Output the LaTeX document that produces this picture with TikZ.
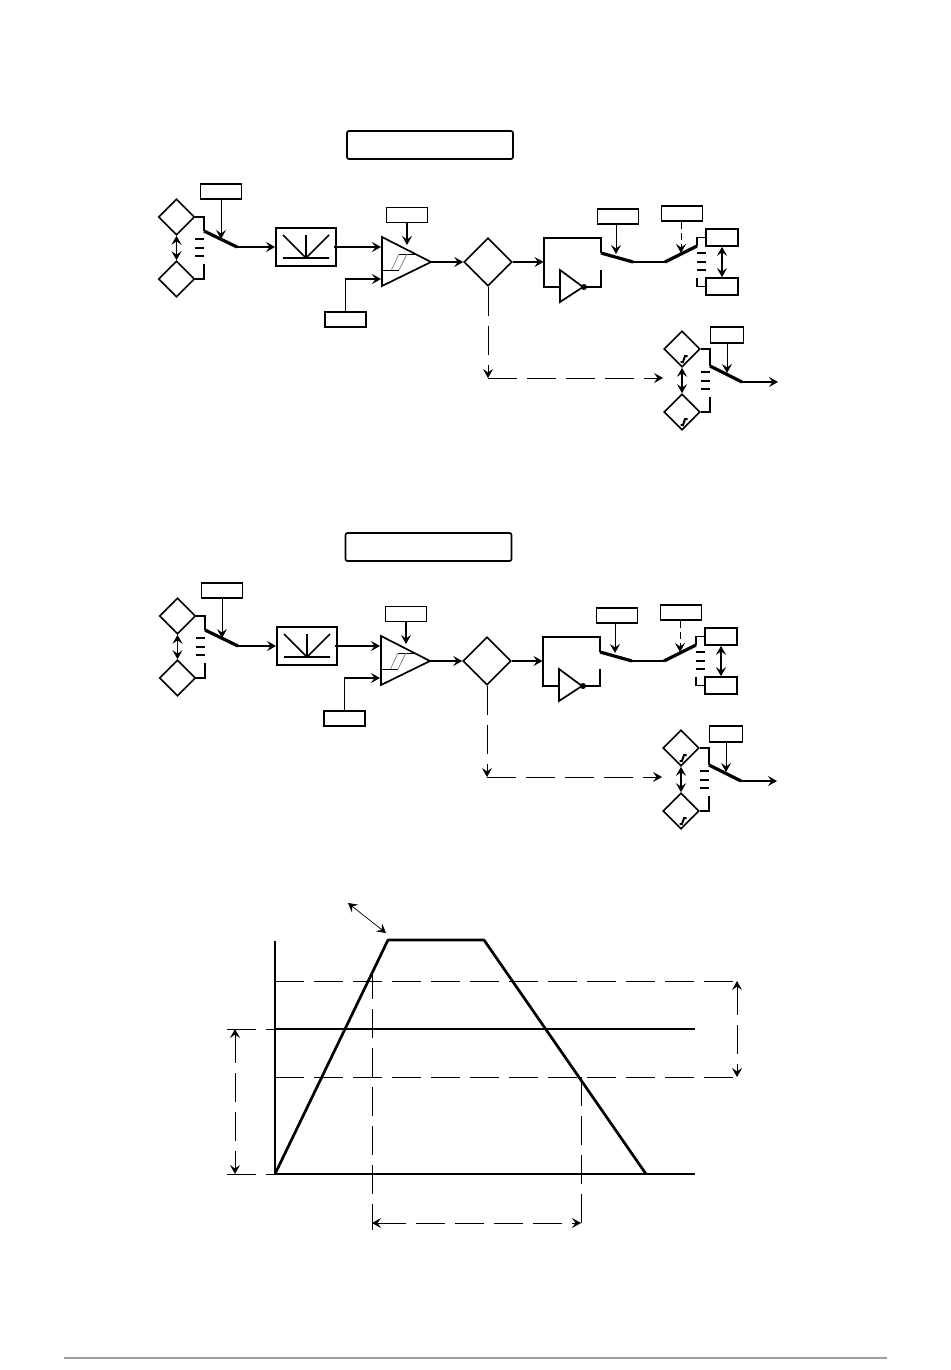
\documentclass[tikz,border=0pt]{standalone}
\usetikzlibrary{arrows.meta,shapes.geometric}

\tikzset{
  wire/.style={line width=1.7pt},
  thinwire/.style={line width=1pt},
  bar/.style={line width=2pt},
  blade/.style={line width=3.2pt},
  longdash/.style={line width=0.9pt, dash pattern=on 29pt off 10pt},
  sbox/.style={draw, line width=1.7pt, inner sep=0pt, minimum width=41pt, minimum height=15pt},
  tbox/.style={draw, line width=1.7pt, inner sep=0pt, minimum width=32pt, minimum height=17pt},
  rhomb/.style={draw, diamond, line width=1.6pt, inner sep=0pt, minimum width=36pt, minimum height=36pt},
  title/.style={draw, rounded corners=2pt, line width=1.7pt, inner sep=0pt, minimum width=166pt, minimum height=28pt}
}

\begin{document}
\begin{tikzpicture}[x=1pt, y=-1pt, >={Stealth[length=9pt,width=10pt,inset=3.5pt]}]
\useasboundingbox (0,0) rectangle (950,1370);

\foreach \sec/\dl/\dr/\dy in {a/0/0/0, b/1/-1/399} {

% left part
\begin{scope}[shift={(\dl,\dy)}]
\node[rhomb] (\sec-d1) at (176.5,217) {};
\node[rhomb] (\sec-d2) at (176.5,279) {};
\node[sbox] (\sec-s1) at (221,191.5) {};
\node[draw, line width=1.9pt, inner sep=0pt, minimum width=60pt, minimum height=38pt] (\sec-mul) at (306,247) {};
\coordinate (\sec-sw1) at (204,231);
\coordinate (\sec-sw2) at (237,247);
\draw[wire, <->] (\sec-d1.south) -- (\sec-d2.north);
\draw[wire] (\sec-d1.east) -| (\sec-sw1);
\draw[wire] (\sec-d2.east) -| (204,264);
\draw[bar] (195,239) -- (204,239) (195,247.5) -- (204,247.5) (195,256) -- (204,256);
\draw[blade] (\sec-sw1) -- (\sec-sw2);
\draw[thinwire, ->] (\sec-s1.south) -- (221,239);
\draw[wire, ->] (\sec-sw2) -- (\sec-mul.west);
\draw[wire] (283,235) -- (306,258) -- (329,235) (306,235) -- (306,258) (283,258) -- (329,258);
\end{scope}

% right part
\begin{scope}[shift={(\dr,\dy)}]
\coordinate (\sec-t1) at (382,237);
\coordinate (\sec-t2) at (382,286);
\coordinate (\sec-t3) at (431,262);
\node[rhomb, minimum width=48pt, minimum height=48pt] (\sec-d3) at (488,262) {};
\node[sbox] (\sec-s2) at (345.5,319.5) {};
\node[sbox] (\sec-s3) at (407,215) {};
\node[sbox] (\sec-s4) at (618,216.5) {};
\node[sbox] (\sec-s5) at (682,213.5) {};
\node[tbox] (\sec-o1) at (722,237.5) {};
\node[tbox] (\sec-o2) at (722,286.5) {};
\node[rhomb] (\sec-d4) at (682,349) {};
\node[rhomb] (\sec-d5) at (682,412) {};
\node[tbox, minimum width=33pt, minimum height=16pt] (\sec-s6) at (727,335) {};
\draw[wire, line join=miter] (\sec-t1) -- (\sec-t3) -- (\sec-t2) -- cycle;
\draw[thinwire] (382,270) -- (399,270) (399,254) -- (415,254);
\draw[gray, line width=0.7pt] (391.5,270) -- (399,254) (399,270) -- (407,254);
\draw[wire, ->] (\sec-s3.south) -- (407,245);
\draw[wire, ->] (\sec-t3) -- (\sec-d3.west);
\draw[wire, ->] (\sec-s2.north) |- (381,279);

% loop with inverter
\coordinate (\sec-n1) at (560,270);
\coordinate (\sec-n2) at (560,302);
\coordinate (\sec-n3) at (583,287);
\draw[wire, ->] (\sec-d3.east) -- (543.5,262);
\draw[wire] (601,253) |- (544,238) |- (560,287);
\draw[wire] (\sec-n1) -- (\sec-n3) -- (\sec-n2) -- cycle;
\fill (584,287) circle (3pt);
\draw[wire] (\sec-n3) -| (601,270);
\draw[blade] (601,253) -- (633,262);
\draw[wire] (633,262) -- (665,262);
\draw[blade] (665,262) -- (697,246);
\draw[thinwire, ->] ([xshift=-2pt]\sec-s4.south) -- (616,254);
\draw[thinwire, ->, dash pattern=on 7pt off 4pt] ([xshift=-1pt]\sec-s5.south) -- (681,253);
\draw[wire] (697,246) |- (\sec-o1.west);
\draw[wire] (697,278) |- (\sec-o2.west);
\draw[bar] (697,253) -- (706,253) (697,261.5) -- (706,261.5) (697,270) -- (706,270);
\draw[wire, <->] (\sec-o1.south) -- (\sec-o2.north);

% dashed path
\coordinate (\sec-c1) at (\sec-d3.south |- 0,378);
\draw[longdash, ->] (\sec-d3.south) -- (\sec-c1);
\draw[longdash, ->] (\sec-c1) -- (663,378);

% relay
\draw[wire, <->] (\sec-d4.south) -- (\sec-d5.north);
\draw[wire] (\sec-d4.east) -| (710,366);
\draw[wire] (\sec-d5.east) -| (710,397);
\draw[bar] (701,372) -- (710,372) (701,380.5) -- (710,380.5) (701,389) -- (710,389);
\draw[blade] (710,366) -- (742,382);
\draw[wire, ->] (742,382) -- (778,382);
\draw[thinwire, ->] (\sec-s6.south) -- (727,373);
\draw[line width=2pt] (680.5,362) -- (683,362) -- (685,356) -- (687.5,356);
\draw[line width=2pt] (680.5,425) -- (683,425) -- (685,419) -- (687.5,419);
\end{scope}
}

% feed from mixer to amplifier
\draw[wire, ->] (a-mul.east) ++(-3,0) -- (381,247);
\draw[wire, ->] (b-mul.east) ++(-3,0) -- (380,646);

% titles
\node[title] (a-title) at (430,145) {};
\node[title] (b-title) at (428.5,547) {};

% chart
\coordinate (top) at (388,940);
\coordinate (top2) at (484,940);
\coordinate (org) at (275,1174);
\coordinate (zero) at (646,1174);
\coordinate (end) at (695,1174);
\draw[wire] (275,941) -- (org);
\draw[line width=2.1pt] (org) -- (end);
\draw[line width=2.1pt] (275,1029) -- (695,1029);
\draw[line width=2.7pt, line join=round] (org) -- (top) -- (top2) -- (zero);
\draw[longdash] (275,981) -- (737,981);
\draw[longdash] (275,1077) -- (737,1077);
\draw[longdash] (227,1029) -- (275,1029);
\draw[longdash] (227,1174) -- (275,1174);
\draw[longdash, <->] (235,1029) -- (235,1174);
\draw[longdash, <->] (737,981) -- (737,1077);
\draw[longdash] (372,970) -- (372,1230);
\draw[longdash] (581,1077) -- (581,1224);
\draw[longdash, <->] (372,1223) -- (581,1223);
\draw[line width=0.7pt, <->] (348,903) -- (386,933);

% footer
\draw[black!38, line width=2pt] (64,1358) -- (887,1358);
\end{tikzpicture}
\end{document}
